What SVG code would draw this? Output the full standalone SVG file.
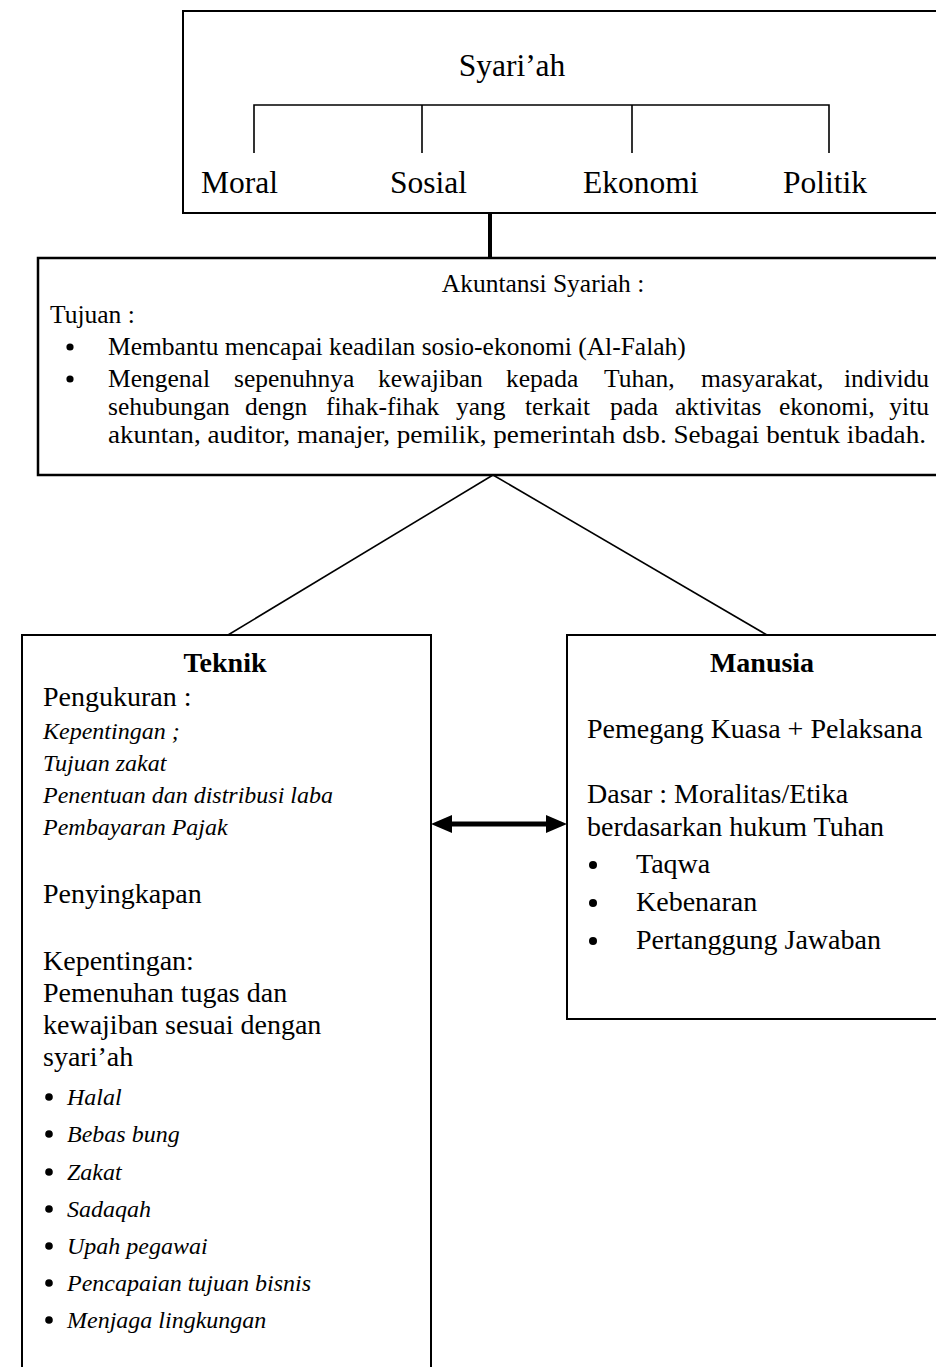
<svg xmlns="http://www.w3.org/2000/svg" width="936" height="1367" viewBox="0 0 936 1367">
<style>
text{font-family:"Liberation Serif","Times New Roman",serif;fill:#000}
.box{fill:#fff;stroke:#000;stroke-width:2}
.ln{stroke:#000;stroke-width:1.6;fill:none}
.big{font-size:31.5px}
.mid{font-size:25.5px}
.t{font-size:28px}
.ti{font-size:24px;font-style:italic}
.b{font-weight:bold;font-size:28px}
.c{text-anchor:middle}
.e{text-anchor:end}
</style>
<rect width="936" height="1367" fill="#fff"/>

<g id="connectors">
<line x1="490" y1="213" x2="490" y2="258" stroke="#000" stroke-width="4"/>
<line class="ln" x1="493" y1="475" x2="228" y2="635"/>
<line class="ln" x1="493" y1="475" x2="767" y2="635"/>
<path d="M431,824 L452,815 L452,821.5 L546,821.5 L546,815 L567,824 L546,833 L546,826.5 L452,826.5 L452,833 Z" fill="#000"/>
</g>

<g id="syariah">
<rect class="box" x="183" y="11" width="770" height="202"/>
<text class="big c" x="512" y="76">Syari’ah</text>
<path class="ln" d="M254,153 V105 H829 V153 M422,105 V153 M632,105 V153"/>
<text class="big" x="201" y="193">Moral</text>
<text class="big" x="390" y="193">Sosial</text>
<text class="big" x="583" y="193">Ekonomi</text>
<text class="big" x="783" y="193">Politik</text>
</g>

<g id="akuntansi">
<rect x="38" y="258" width="912" height="217" fill="#fff" stroke="#000" stroke-width="2.5"/>
<text class="mid c" x="543" y="292">Akuntansi Syariah :</text>
<text class="mid" x="50" y="323">Tujuan :</text>
<circle cx="70" cy="347" r="3.6"/>
<text class="mid" x="108" y="355">Membantu mencapai keadilan sosio-ekonomi (Al-Falah)</text>
<circle cx="70" cy="379" r="3.6"/>
<text class="mid"><tspan x="108" y="387">Mengenal</tspan><tspan x="234">sepenuhnya</tspan><tspan x="378">kewajiban</tspan><tspan x="506">kepada</tspan><tspan x="604">Tuhan,</tspan><tspan x="701">masyarakat,</tspan></text>
<text class="mid e" x="929" y="387">individu</text>
<text class="mid"><tspan x="108" y="415">sehubungan</tspan><tspan x="245">dengn</tspan><tspan x="326">fihak-fihak</tspan><tspan x="456">yang</tspan><tspan x="525">terkait</tspan><tspan x="610">pada</tspan><tspan x="675">aktivitas</tspan><tspan x="779">ekonomi,</tspan></text>
<text class="mid e" x="929" y="415">yitu</text>
<text class="mid" x="108" y="443" textLength="818" lengthAdjust="spacingAndGlyphs">akuntan, auditor, manajer, pemilik, pemerintah dsb. Sebagai bentuk ibadah.</text>
</g>

<g id="teknik">
<path d="M22,1370 V635 H431 V1370" fill="#fff" stroke="#000" stroke-width="2"/>
<text class="b c" x="225" y="672">Teknik</text>
<text class="t" x="43" y="706">Pengukuran :</text>
<text class="ti" x="43" y="739">Kepentingan ;</text>
<text class="ti" x="43" y="771">Tujuan zakat</text>
<text class="ti" x="43" y="803">Penentuan dan distribusi laba</text>
<text class="ti" x="43" y="835">Pembayaran Pajak</text>
<text class="t" x="43" y="903">Penyingkapan</text>
<text class="t" x="43" y="970">Kepentingan:</text>
<text class="t" x="43" y="1002">Pemenuhan tugas dan</text>
<text class="t" x="43" y="1034">kewajiban sesuai dengan</text>
<text class="t" x="43" y="1066">syari’ah</text>
<circle cx="49" cy="1097" r="3.8"/>
<text class="ti" x="67" y="1105">Halal</text>
<circle cx="49" cy="1134" r="3.8"/>
<text class="ti" x="67" y="1142">Bebas bung</text>
<circle cx="49" cy="1172" r="3.8"/>
<text class="ti" x="67" y="1180">Zakat</text>
<circle cx="49" cy="1209" r="3.8"/>
<text class="ti" x="67" y="1217">Sadaqah</text>
<circle cx="49" cy="1246" r="3.8"/>
<text class="ti" x="67" y="1254">Upah pegawai</text>
<circle cx="49" cy="1283" r="3.8"/>
<text class="ti" x="67" y="1291">Pencapaian tujuan bisnis</text>
<circle cx="49" cy="1320" r="3.8"/>
<text class="ti" x="67" y="1328">Menjaga lingkungan</text>
</g>

<g id="manusia">
<rect class="box" x="567" y="635" width="390" height="384"/>
<text class="b c" x="762" y="672">Manusia</text>
<text class="t" x="587" y="738">Pemegang Kuasa + Pelaksana</text>
<text class="t" x="587" y="803">Dasar : Moralitas/Etika</text>
<text class="t" x="587" y="836">berdasarkan hukum Tuhan</text>
<circle cx="593" cy="865" r="4"/>
<text class="t" x="636" y="873">Taqwa</text>
<circle cx="593" cy="903" r="4"/>
<text class="t" x="636" y="911">Kebenaran</text>
<circle cx="593" cy="941" r="4"/>
<text class="t" x="636" y="949">Pertanggung Jawaban</text>
</g>
</svg>
